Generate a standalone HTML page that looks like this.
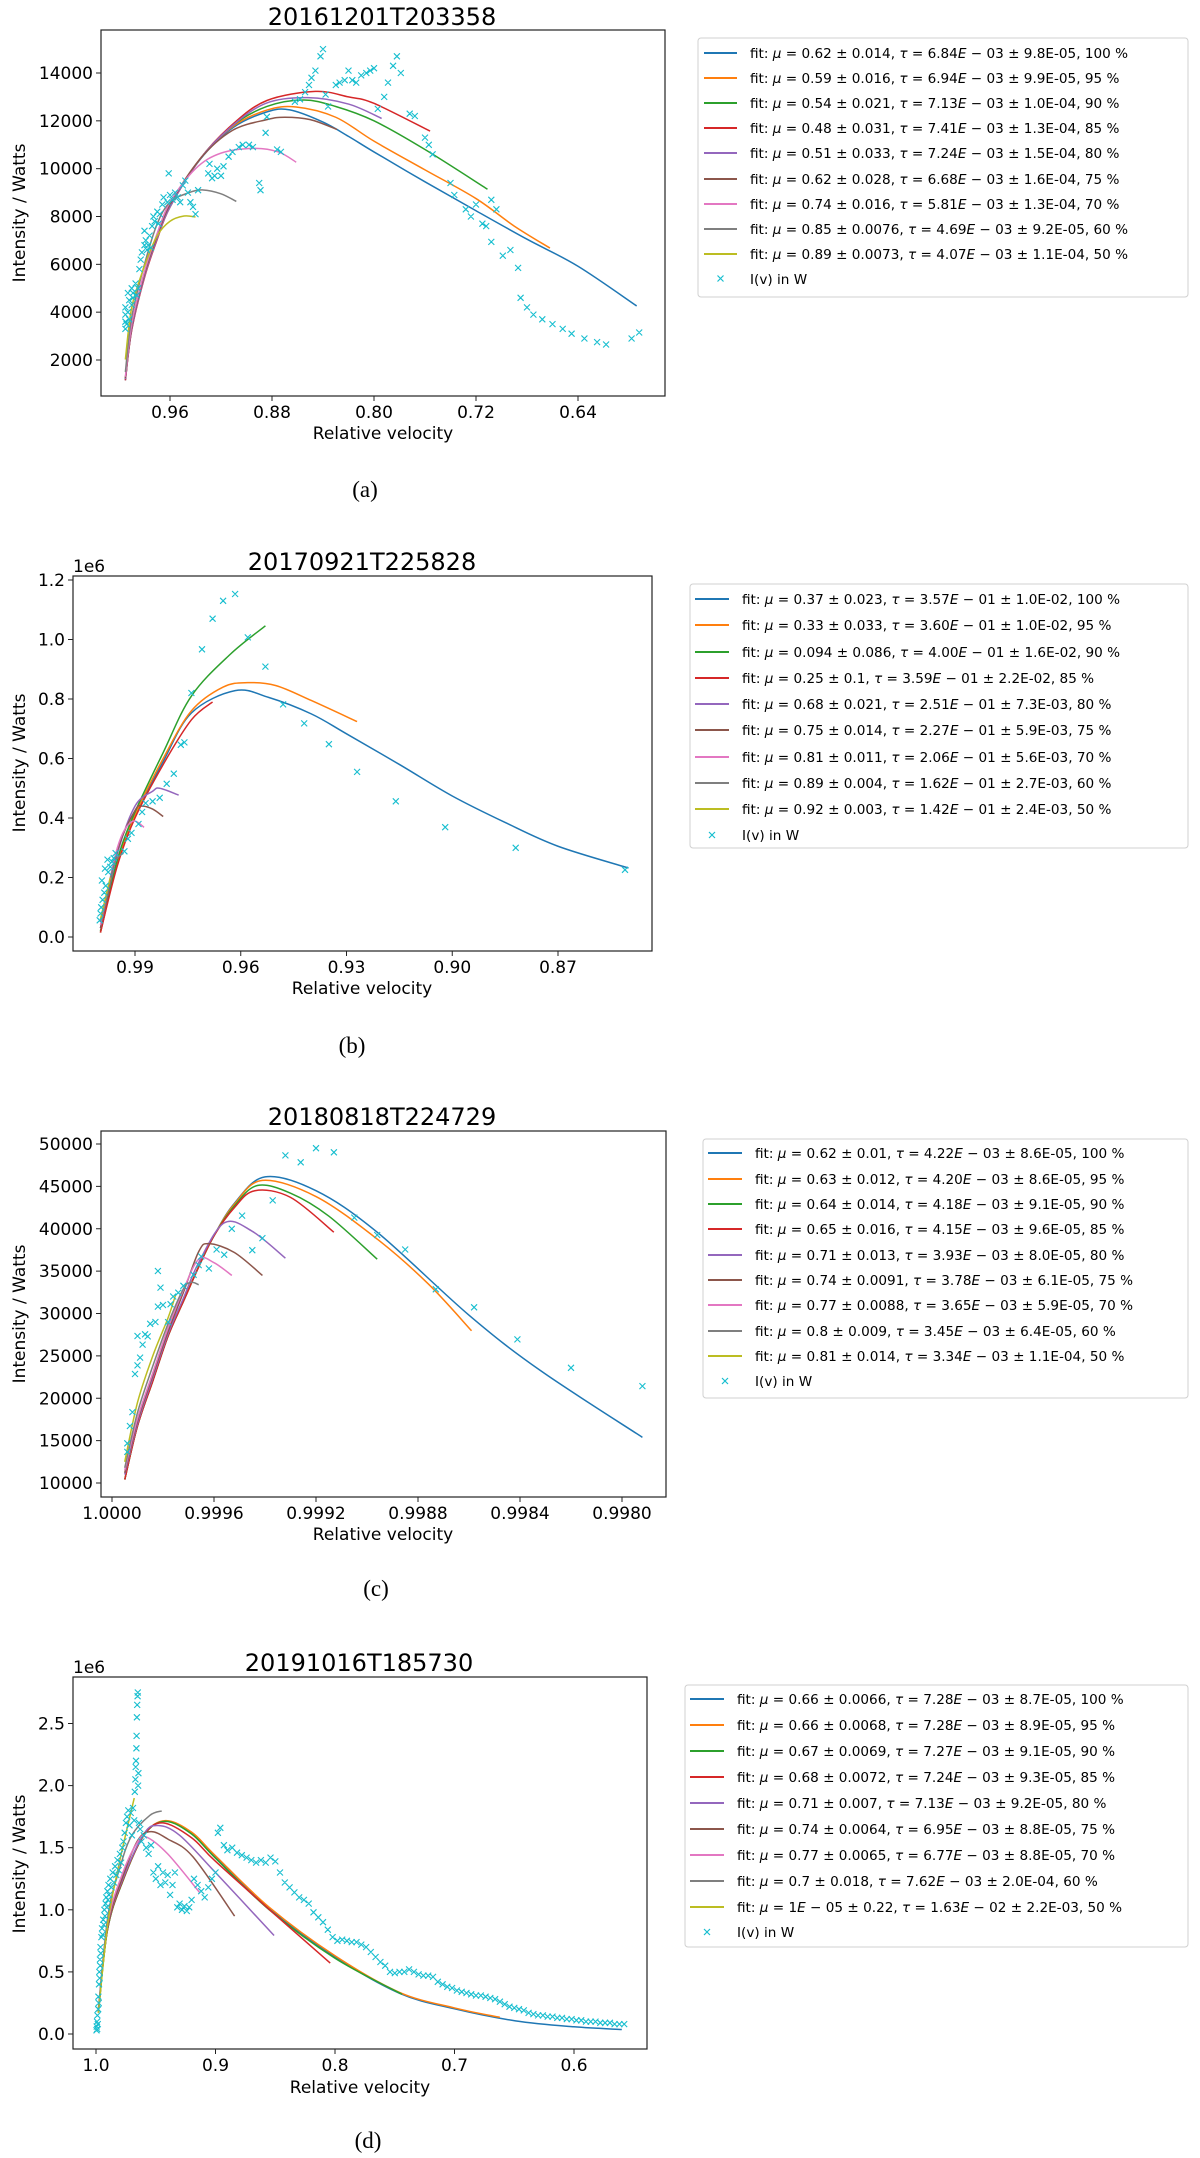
<!DOCTYPE html>
<html><head><meta charset="utf-8">
<style>
html,body{margin:0;padding:0;background:#fff;}
svg{display:block;font-family:"DejaVu Sans","Liberation Sans",sans-serif;}
.tk{font-size:17px;fill:#000;}
.ttl{font-size:24px;fill:#000;}
.lbl{font-size:17px;fill:#000;}
.lg{font-size:13.6px;fill:#000;}
.cap{font-family:"Liberation Serif",serif;font-size:23px;fill:#000;}
</style></head>
<body>
<svg id="fig" width="1200" height="2158" viewBox="0 0 1200 2158" xmlns="http://www.w3.org/2000/svg">
<rect width="1200" height="2158" fill="#fff"/>
<g id="pa"></g>
<g id="pb"></g>
<g id="pc"></g>
<g id="pd"></g>

<text class="ttl" x="382" y="25" text-anchor="middle">20161201T203358</text>
<text class="lbl" x="383" y="439" text-anchor="middle">Relative velocity</text>
<text class="lbl" transform="translate(25,213) rotate(-90)" text-anchor="middle">Intensity / Watts</text>
<text class="cap" x="365" y="497" text-anchor="middle">(a)</text>

<text class="ttl" x="362" y="570" text-anchor="middle">20170921T225828</text>
<text class="tk" x="73" y="572">1e6</text>
<text class="lbl" x="362" y="994" text-anchor="middle">Relative velocity</text>
<text class="lbl" transform="translate(25,763) rotate(-90)" text-anchor="middle">Intensity / Watts</text>
<text class="cap" x="352" y="1053" text-anchor="middle">(b)</text>

<text class="ttl" x="382" y="1125" text-anchor="middle">20180818T224729</text>
<text class="lbl" x="383" y="1540" text-anchor="middle">Relative velocity</text>
<text class="lbl" transform="translate(25,1314) rotate(-90)" text-anchor="middle">Intensity / Watts</text>
<text class="cap" x="376" y="1596" text-anchor="middle">(c)</text>

<text class="ttl" x="359" y="1671" text-anchor="middle">20191016T185730</text>
<text class="tk" x="73" y="1673">1e6</text>
<text class="lbl" x="360" y="2093" text-anchor="middle">Relative velocity</text>
<text class="lbl" transform="translate(25,1864) rotate(-90)" text-anchor="middle">Intensity / Watts</text>
<text class="cap" x="368" y="2148" text-anchor="middle">(d)</text>

<g transform="translate(698,38)">
<rect x="0" y="0" width="490" height="259" rx="3" fill="#fff" stroke="#d0d0d0"/>
<g><line x1="6" x2="39" y1="15" y2="15" stroke="#1f77b4" stroke-width="2"/><text class="lg" x="52" y="20">fit: <tspan font-style="italic">μ</tspan> = 0.62 ± 0.014, <tspan font-style="italic">τ</tspan> = 6.84<tspan font-style="italic">E</tspan> − 03 ± 9.8E-05, 100 %</text></g>
<g><line x1="6" x2="39" y1="40" y2="40" stroke="#ff7f0e" stroke-width="2"/><text class="lg" x="52" y="45">fit: <tspan font-style="italic">μ</tspan> = 0.59 ± 0.016, <tspan font-style="italic">τ</tspan> = 6.94<tspan font-style="italic">E</tspan> − 03 ± 9.9E-05, 95 %</text></g>
<g><line x1="6" x2="39" y1="65" y2="65" stroke="#2ca02c" stroke-width="2"/><text class="lg" x="52" y="70">fit: <tspan font-style="italic">μ</tspan> = 0.54 ± 0.021, <tspan font-style="italic">τ</tspan> = 7.13<tspan font-style="italic">E</tspan> − 03 ± 1.0E-04, 90 %</text></g>
<g><line x1="6" x2="39" y1="90" y2="90" stroke="#d62728" stroke-width="2"/><text class="lg" x="52" y="95">fit: <tspan font-style="italic">μ</tspan> = 0.48 ± 0.031, <tspan font-style="italic">τ</tspan> = 7.41<tspan font-style="italic">E</tspan> − 03 ± 1.3E-04, 85 %</text></g>
<g><line x1="6" x2="39" y1="115" y2="115" stroke="#9467bd" stroke-width="2"/><text class="lg" x="52" y="120">fit: <tspan font-style="italic">μ</tspan> = 0.51 ± 0.033, <tspan font-style="italic">τ</tspan> = 7.24<tspan font-style="italic">E</tspan> − 03 ± 1.5E-04, 80 %</text></g>
<g><line x1="6" x2="39" y1="141" y2="141" stroke="#8c564b" stroke-width="2"/><text class="lg" x="52" y="146">fit: <tspan font-style="italic">μ</tspan> = 0.62 ± 0.028, <tspan font-style="italic">τ</tspan> = 6.68<tspan font-style="italic">E</tspan> − 03 ± 1.6E-04, 75 %</text></g>
<g><line x1="6" x2="39" y1="166" y2="166" stroke="#e377c2" stroke-width="2"/><text class="lg" x="52" y="171">fit: <tspan font-style="italic">μ</tspan> = 0.74 ± 0.016, <tspan font-style="italic">τ</tspan> = 5.81<tspan font-style="italic">E</tspan> − 03 ± 1.3E-04, 70 %</text></g>
<g><line x1="6" x2="39" y1="191" y2="191" stroke="#7f7f7f" stroke-width="2"/><text class="lg" x="52" y="196">fit: <tspan font-style="italic">μ</tspan> = 0.85 ± 0.0076, <tspan font-style="italic">τ</tspan> = 4.69<tspan font-style="italic">E</tspan> − 03 ± 9.2E-05, 60 %</text></g>
<g><line x1="6" x2="39" y1="216" y2="216" stroke="#bcbd22" stroke-width="2"/><text class="lg" x="52" y="221">fit: <tspan font-style="italic">μ</tspan> = 0.89 ± 0.0073, <tspan font-style="italic">τ</tspan> = 4.07<tspan font-style="italic">E</tspan> − 03 ± 1.1E-04, 50 %</text></g>
<g><path d="M19.5,237.5 l6,6 M25.5,237.5 l-6,6" stroke="#17becf" stroke-width="1.2"/><text class="lg" x="52" y="246">I(v) in W</text></g>
</g>

<g transform="translate(690,584)">
<rect x="0" y="0" width="498" height="264" rx="3" fill="#fff" stroke="#d0d0d0"/>
<g><line x1="5" x2="39" y1="15" y2="15" stroke="#1f77b4" stroke-width="2"/><text class="lg" x="52" y="20">fit: <tspan font-style="italic">μ</tspan> = 0.37 ± 0.023, <tspan font-style="italic">τ</tspan> = 3.57<tspan font-style="italic">E</tspan> − 01 ± 1.0E-02, 100 %</text></g>
<g><line x1="5" x2="39" y1="41" y2="41" stroke="#ff7f0e" stroke-width="2"/><text class="lg" x="52" y="46">fit: <tspan font-style="italic">μ</tspan> = 0.33 ± 0.033, <tspan font-style="italic">τ</tspan> = 3.60<tspan font-style="italic">E</tspan> − 01 ± 1.0E-02, 95 %</text></g>
<g><line x1="5" x2="39" y1="68" y2="68" stroke="#2ca02c" stroke-width="2"/><text class="lg" x="52" y="73">fit: <tspan font-style="italic">μ</tspan> = 0.094 ± 0.086, <tspan font-style="italic">τ</tspan> = 4.00<tspan font-style="italic">E</tspan> − 01 ± 1.6E-02, 90 %</text></g>
<g><line x1="5" x2="39" y1="94" y2="94" stroke="#d62728" stroke-width="2"/><text class="lg" x="52" y="99">fit: <tspan font-style="italic">μ</tspan> = 0.25 ± 0.1, <tspan font-style="italic">τ</tspan> = 3.59<tspan font-style="italic">E</tspan> − 01 ± 2.2E-02, 85 %</text></g>
<g><line x1="5" x2="39" y1="120" y2="120" stroke="#9467bd" stroke-width="2"/><text class="lg" x="52" y="125">fit: <tspan font-style="italic">μ</tspan> = 0.68 ± 0.021, <tspan font-style="italic">τ</tspan> = 2.51<tspan font-style="italic">E</tspan> − 01 ± 7.3E-03, 80 %</text></g>
<g><line x1="5" x2="39" y1="146" y2="146" stroke="#8c564b" stroke-width="2"/><text class="lg" x="52" y="151">fit: <tspan font-style="italic">μ</tspan> = 0.75 ± 0.014, <tspan font-style="italic">τ</tspan> = 2.27<tspan font-style="italic">E</tspan> − 01 ± 5.9E-03, 75 %</text></g>
<g><line x1="5" x2="39" y1="173" y2="173" stroke="#e377c2" stroke-width="2"/><text class="lg" x="52" y="178">fit: <tspan font-style="italic">μ</tspan> = 0.81 ± 0.011, <tspan font-style="italic">τ</tspan> = 2.06<tspan font-style="italic">E</tspan> − 01 ± 5.6E-03, 70 %</text></g>
<g><line x1="5" x2="39" y1="199" y2="199" stroke="#7f7f7f" stroke-width="2"/><text class="lg" x="52" y="204">fit: <tspan font-style="italic">μ</tspan> = 0.89 ± 0.004, <tspan font-style="italic">τ</tspan> = 1.62<tspan font-style="italic">E</tspan> − 01 ± 2.7E-03, 60 %</text></g>
<g><line x1="5" x2="39" y1="225" y2="225" stroke="#bcbd22" stroke-width="2"/><text class="lg" x="52" y="230">fit: <tspan font-style="italic">μ</tspan> = 0.92 ± 0.003, <tspan font-style="italic">τ</tspan> = 1.42<tspan font-style="italic">E</tspan> − 01 ± 2.4E-03, 50 %</text></g>
<g><path d="M19,248 l6,6 M25,248 l-6,6" stroke="#17becf" stroke-width="1.2"/><text class="lg" x="52" y="256">I(v) in W</text></g>
</g>

<g transform="translate(703,1139)">
<rect x="0" y="0" width="485" height="259" rx="3" fill="#fff" stroke="#d0d0d0"/>
<g><line x1="5" x2="39" y1="14" y2="14" stroke="#1f77b4" stroke-width="2"/><text class="lg" x="52" y="19">fit: <tspan font-style="italic">μ</tspan> = 0.62 ± 0.01, <tspan font-style="italic">τ</tspan> = 4.22<tspan font-style="italic">E</tspan> − 03 ± 8.6E-05, 100 %</text></g>
<g><line x1="5" x2="39" y1="40" y2="40" stroke="#ff7f0e" stroke-width="2"/><text class="lg" x="52" y="45">fit: <tspan font-style="italic">μ</tspan> = 0.63 ± 0.012, <tspan font-style="italic">τ</tspan> = 4.20<tspan font-style="italic">E</tspan> − 03 ± 8.6E-05, 95 %</text></g>
<g><line x1="5" x2="39" y1="65" y2="65" stroke="#2ca02c" stroke-width="2"/><text class="lg" x="52" y="70">fit: <tspan font-style="italic">μ</tspan> = 0.64 ± 0.014, <tspan font-style="italic">τ</tspan> = 4.18<tspan font-style="italic">E</tspan> − 03 ± 9.1E-05, 90 %</text></g>
<g><line x1="5" x2="39" y1="90" y2="90" stroke="#d62728" stroke-width="2"/><text class="lg" x="52" y="95">fit: <tspan font-style="italic">μ</tspan> = 0.65 ± 0.016, <tspan font-style="italic">τ</tspan> = 4.15<tspan font-style="italic">E</tspan> − 03 ± 9.6E-05, 85 %</text></g>
<g><line x1="5" x2="39" y1="116" y2="116" stroke="#9467bd" stroke-width="2"/><text class="lg" x="52" y="121">fit: <tspan font-style="italic">μ</tspan> = 0.71 ± 0.013, <tspan font-style="italic">τ</tspan> = 3.93<tspan font-style="italic">E</tspan> − 03 ± 8.0E-05, 80 %</text></g>
<g><line x1="5" x2="39" y1="141" y2="141" stroke="#8c564b" stroke-width="2"/><text class="lg" x="52" y="146">fit: <tspan font-style="italic">μ</tspan> = 0.74 ± 0.0091, <tspan font-style="italic">τ</tspan> = 3.78<tspan font-style="italic">E</tspan> − 03 ± 6.1E-05, 75 %</text></g>
<g><line x1="5" x2="39" y1="166" y2="166" stroke="#e377c2" stroke-width="2"/><text class="lg" x="52" y="171">fit: <tspan font-style="italic">μ</tspan> = 0.77 ± 0.0088, <tspan font-style="italic">τ</tspan> = 3.65<tspan font-style="italic">E</tspan> − 03 ± 5.9E-05, 70 %</text></g>
<g><line x1="5" x2="39" y1="192" y2="192" stroke="#7f7f7f" stroke-width="2"/><text class="lg" x="52" y="197">fit: <tspan font-style="italic">μ</tspan> = 0.8 ± 0.009, <tspan font-style="italic">τ</tspan> = 3.45<tspan font-style="italic">E</tspan> − 03 ± 6.4E-05, 60 %</text></g>
<g><line x1="5" x2="39" y1="217" y2="217" stroke="#bcbd22" stroke-width="2"/><text class="lg" x="52" y="222">fit: <tspan font-style="italic">μ</tspan> = 0.81 ± 0.014, <tspan font-style="italic">τ</tspan> = 3.34<tspan font-style="italic">E</tspan> − 03 ± 1.1E-04, 50 %</text></g>
<g><path d="M19,239 l6,6 M25,239 l-6,6" stroke="#17becf" stroke-width="1.2"/><text class="lg" x="52" y="247">I(v) in W</text></g>
</g>

<g transform="translate(685,1685)">
<rect x="0" y="0" width="503" height="262" rx="3" fill="#fff" stroke="#d0d0d0"/>
<g><line x1="5" x2="39" y1="14" y2="14" stroke="#1f77b4" stroke-width="2"/><text class="lg" x="52" y="19">fit: <tspan font-style="italic">μ</tspan> = 0.66 ± 0.0066, <tspan font-style="italic">τ</tspan> = 7.28<tspan font-style="italic">E</tspan> − 03 ± 8.7E-05, 100 %</text></g>
<g><line x1="5" x2="39" y1="40" y2="40" stroke="#ff7f0e" stroke-width="2"/><text class="lg" x="52" y="45">fit: <tspan font-style="italic">μ</tspan> = 0.66 ± 0.0068, <tspan font-style="italic">τ</tspan> = 7.28<tspan font-style="italic">E</tspan> − 03 ± 8.9E-05, 95 %</text></g>
<g><line x1="5" x2="39" y1="66" y2="66" stroke="#2ca02c" stroke-width="2"/><text class="lg" x="52" y="71">fit: <tspan font-style="italic">μ</tspan> = 0.67 ± 0.0069, <tspan font-style="italic">τ</tspan> = 7.27<tspan font-style="italic">E</tspan> − 03 ± 9.1E-05, 90 %</text></g>
<g><line x1="5" x2="39" y1="92" y2="92" stroke="#d62728" stroke-width="2"/><text class="lg" x="52" y="97">fit: <tspan font-style="italic">μ</tspan> = 0.68 ± 0.0072, <tspan font-style="italic">τ</tspan> = 7.24<tspan font-style="italic">E</tspan> − 03 ± 9.3E-05, 85 %</text></g>
<g><line x1="5" x2="39" y1="118" y2="118" stroke="#9467bd" stroke-width="2"/><text class="lg" x="52" y="123">fit: <tspan font-style="italic">μ</tspan> = 0.71 ± 0.007, <tspan font-style="italic">τ</tspan> = 7.13<tspan font-style="italic">E</tspan> − 03 ± 9.2E-05, 80 %</text></g>
<g><line x1="5" x2="39" y1="144" y2="144" stroke="#8c564b" stroke-width="2"/><text class="lg" x="52" y="149">fit: <tspan font-style="italic">μ</tspan> = 0.74 ± 0.0064, <tspan font-style="italic">τ</tspan> = 6.95<tspan font-style="italic">E</tspan> − 03 ± 8.8E-05, 75 %</text></g>
<g><line x1="5" x2="39" y1="170" y2="170" stroke="#e377c2" stroke-width="2"/><text class="lg" x="52" y="175">fit: <tspan font-style="italic">μ</tspan> = 0.77 ± 0.0065, <tspan font-style="italic">τ</tspan> = 6.77<tspan font-style="italic">E</tspan> − 03 ± 8.8E-05, 70 %</text></g>
<g><line x1="5" x2="39" y1="196" y2="196" stroke="#7f7f7f" stroke-width="2"/><text class="lg" x="52" y="201">fit: <tspan font-style="italic">μ</tspan> = 0.7 ± 0.018, <tspan font-style="italic">τ</tspan> = 7.62<tspan font-style="italic">E</tspan> − 03 ± 2.0E-04, 60 %</text></g>
<g><line x1="5" x2="39" y1="222" y2="222" stroke="#bcbd22" stroke-width="2"/><text class="lg" x="52" y="227">fit: <tspan font-style="italic">μ</tspan> = 1<tspan font-style="italic">E</tspan> − 05 ± 0.22, <tspan font-style="italic">τ</tspan> = 1.63<tspan font-style="italic">E</tspan> − 02 ± 2.2E-03, 50 %</text></g>
<g><path d="M19,244 l6,6 M25,244 l-6,6" stroke="#17becf" stroke-width="1.2"/><text class="lg" x="52" y="252">I(v) in W</text></g>
</g>
</svg>

<script>
// ===== Panel A data =====
const aXTicks = [0.96, 0.88, 0.80, 0.72, 0.64];
const aXTickLabels = ["0.96", "0.88", "0.80", "0.72", "0.64"];
const aYTicks = [2000, 4000, 6000, 8000, 10000, 12000, 14000];
const aYTickLabels = ["2000", "4000", "6000", "8000", "10000", "12000", "14000"];
const aFitNames = ["100 %", "95 %", "90 %", "85 %", "80 %", "75 %", "70 %", "60 %", "50 %"];
const aFits = [
 [[0.995,1150],[0.99,3300],[0.98,5500],[0.97,7100],[0.96,8400],[0.9365,10375],[0.911,11700],[0.884,12375],[0.866,12460],[0.84,11950],[0.82,11350],[0.80,10700],[0.76,9450],[0.72,8240],[0.68,7050],[0.64,5920],[0.594,4260]],
 [[0.995,1200],[0.99,3300],[0.98,5500],[0.97,7100],[0.96,8400],[0.9365,10400],[0.911,11750],[0.884,12450],[0.861,12580],[0.83,12150],[0.80,11150],[0.76,9950],[0.72,8750],[0.69,7600],[0.662,6680]],
 [[0.995,1200],[0.99,3300],[0.98,5500],[0.97,7100],[0.96,8400],[0.9365,10400],[0.911,11800],[0.884,12600],[0.855,12870],[0.83,12600],[0.80,12000],[0.76,10800],[0.711,9140]],
 [[0.995,1150],[0.99,3250],[0.98,5450],[0.97,7050],[0.96,8400],[0.9365,10400],[0.911,11850],[0.884,12850],[0.846,13230],[0.82,13000],[0.80,12730],[0.756,11570]],
 [[0.995,1200],[0.99,3300],[0.98,5500],[0.97,7100],[0.96,8400],[0.9365,10400],[0.911,11800],[0.884,12750],[0.852,12970],[0.82,12700],[0.794,12100]],
 [[0.995,1250],[0.99,3400],[0.98,5600],[0.97,7200],[0.96,8500],[0.9365,10400],[0.911,11600],[0.884,12050],[0.87,12150],[0.85,12050],[0.829,11640]],
 [[0.995,1300],[0.99,3500],[0.98,5700],[0.97,7300],[0.96,8600],[0.94,10000],[0.92,10650],[0.894,10850],[0.875,10700],[0.861,10270]],
 [[0.995,1500],[0.99,3800],[0.98,6000],[0.97,7700],[0.96,8600],[0.945,9000],[0.934,9110],[0.92,8950],[0.908,8630]],
 [[0.995,2020],[0.99,4200],[0.98,5930],[0.97,7200],[0.96,7800],[0.949,8020],[0.94,7980]]
];
const aScatter = [
 [0.995,3300],[0.995,3600],[0.995,3900],[0.995,4200],[0.994,3500],[0.993,4000],[0.993,4800],[0.992,3700],[0.992,4500],[0.99,4300],[0.99,5000],[0.989,4800],[0.989,4600],[0.987,5200],[0.986,4700],[0.985,5000],[0.984,5800],[0.983,6200],[0.982,6500],[0.98,6800],[0.98,7400],[0.979,7000],[0.978,6600],[0.977,6800],[0.976,7200],[0.975,6700],[0.974,7600],[0.973,8000],[0.972,7800],[0.97,8200],[0.969,7700],[0.968,8100],[0.966,8500],[0.965,8800],[0.962,8600],[0.961,9800],[0.96,8900],[0.958,8700],[0.956,9000],[0.954,8800],[0.952,8600],[0.95,9300],[0.948,9500],[0.946,9000],[0.944,8600],[0.942,8400],[0.94,8100],[0.938,9100],[0.93,9800],[0.929,10200],[0.927,9600],[0.925,9700],[0.923,10000],[0.92,9700],[0.918,10100],[0.914,10500],[0.911,10700],[0.906,10900],[0.903,11000],[0.898,11000],[0.895,10900],[0.89,9400],[0.889,9100],[0.885,11500],[0.884,12170],[0.876,10800],[0.873,10700],[0.862,12800],[0.858,12900],[0.854,13200],[0.851,13500],[0.849,13800],[0.846,14100],[0.842,14700],[0.84,15000],[0.838,13100],[0.836,12600],[0.83,13500],[0.827,13600],[0.823,13700],[0.82,14100],[0.817,13700],[0.814,13600],[0.81,13900],[0.806,14000],[0.803,14100],[0.8,14200],[0.797,12500],[0.792,13000],[0.789,13600],[0.785,14300],[0.782,14700],[0.779,14000],[0.772,12300],[0.768,12200],[0.76,11300],[0.757,11000],[0.754,10600],[0.74,9400],[0.737,8900],[0.728,8300],[0.724,8000],[0.72,8500],[0.715,7700],[0.712,7600],[0.708,8700],[0.704,8300],[0.708,6940],[0.699,6360],[0.693,6600],[0.687,5850],[0.685,4600],[0.68,4200],[0.675,3900],[0.668,3700],[0.66,3500],[0.652,3300],[0.645,3100],[0.635,2900],[0.625,2750],[0.618,2650],[0.598,2900],[0.592,3150]
];

// ===== Panel B data (values in 1e6) =====
const bXTicks = [0.99, 0.96, 0.93, 0.90, 0.87];
const bXTickLabels = ["0.99", "0.96", "0.93", "0.90", "0.87"];
const bYTicks = [0, 0.2, 0.4, 0.6, 0.8, 1.0, 1.2];
const bYTickLabels = ["0.0", "0.2", "0.4", "0.6", "0.8", "1.0", "1.2"];
const bFits = [
 [[0.9998,0.015],[0.995,0.25],[0.99,0.404],[0.982,0.59],[0.974,0.753],[0.9616,0.828],[0.952,0.805],[0.94,0.75],[0.93,0.683],[0.915,0.58],[0.90,0.474],[0.885,0.385],[0.87,0.305],[0.85,0.232]],
 [[0.9998,0.015],[0.995,0.25],[0.99,0.41],[0.982,0.60],[0.974,0.76],[0.965,0.84],[0.958,0.855],[0.95,0.845],[0.94,0.795],[0.927,0.724]],
 [[0.9998,0.02],[0.995,0.26],[0.99,0.42],[0.982,0.62],[0.974,0.81],[0.963,0.95],[0.953,1.046]],
 [[0.9998,0.015],[0.995,0.24],[0.99,0.40],[0.982,0.58],[0.974,0.73],[0.968,0.79]],
 [[0.9998,0.03],[0.995,0.28],[0.99,0.44],[0.985,0.49],[0.983,0.50],[0.9776,0.477]],
 [[0.9998,0.03],[0.995,0.29],[0.99,0.425],[0.988,0.44],[0.985,0.43],[0.982,0.405]],
 [[0.9998,0.04],[0.995,0.30],[0.991,0.387],[0.9874,0.369]],
 [[0.9998,0.05],[0.996,0.24],[0.9933,0.282]],
 [[0.9998,0.06],[0.997,0.20]]
];
const bScatter = [
 [0.9616,1.153],[0.965,1.13],[0.968,1.07],[0.971,0.967],[0.958,1.007],[0.953,0.909],[0.974,0.82],[0.948,0.782],[0.942,0.718],[0.935,0.648],[0.927,0.555],[0.916,0.456],[0.902,0.369],[0.882,0.30],[0.851,0.226],[0.976,0.654],[0.977,0.646],[0.979,0.549],[0.981,0.515],[0.983,0.468],[0.985,0.456],[0.987,0.45],[0.988,0.42],[0.989,0.38],[0.991,0.35],[0.993,0.288],[0.9955,0.282],[0.9965,0.253],[0.9976,0.218],[0.9983,0.172],[0.9992,0.125],[0.9998,0.079],[1.0,0.056],[0.9987,0.149],[0.997,0.236],[0.996,0.265],[0.9996,0.10],[0.9994,0.19],[0.9985,0.23],[0.9978,0.26],[0.992,0.33]
];

// ===== Panel C data =====
const cXTicks = [1.0, 0.9996, 0.9992, 0.9988, 0.9984, 0.998];
const cXTickLabels = ["1.0000", "0.9996", "0.9992", "0.9988", "0.9984", "0.9980"];
const cYTicks = [10000, 15000, 20000, 25000, 30000, 35000, 40000, 45000, 50000];
const cYTickLabels = ["10000", "15000", "20000", "25000", "30000", "35000", "40000", "45000", "50000"];
const cFits = [
 [[0.99995,10400],[0.9999,16730],[0.99984,22040],[0.99978,27350],[0.99972,31430],[0.99966,35510],[0.9996,39180],[0.99952,43000],[0.9994,46120],[0.9992,44490],[0.99896,39590],[0.9986,29800],[0.99832,23270],[0.99792,15390]],
 [[0.99995,10400],[0.9999,16730],[0.99984,22040],[0.99978,27350],[0.99972,31430],[0.99966,35510],[0.9996,39180],[0.99952,42900],[0.99941,45710],[0.9992,43800],[0.99896,38780],[0.99876,33500],[0.99859,27960]],
 [[0.99995,10400],[0.9999,16730],[0.99984,22040],[0.99978,27350],[0.99972,31430],[0.99966,35510],[0.9996,39180],[0.99952,42700],[0.99943,45100],[0.9993,44200],[0.99915,41500],[0.99896,36410]],
 [[0.99995,10400],[0.9999,16730],[0.99984,22040],[0.99978,27350],[0.99972,31430],[0.99966,35510],[0.9996,39180],[0.99952,42500],[0.99944,44490],[0.9993,43700],[0.99913,39590]],
 [[0.99995,11000],[0.9999,17000],[0.99984,22400],[0.99978,27600],[0.99972,31800],[0.99966,36000],[0.99956,40690],[0.99945,39700],[0.99932,36530]],
 [[0.99995,11200],[0.9999,17300],[0.99984,22700],[0.99978,27900],[0.99972,32500],[0.99966,37300],[0.99962,38240],[0.99952,37200],[0.99941,34490]],
 [[0.99995,11500],[0.9999,17600],[0.99984,23000],[0.99978,28300],[0.99972,32800],[0.99966,36410],[0.9996,36000],[0.99953,34490]],
 [[0.99995,11800],[0.9999,18300],[0.99984,23800],[0.99978,28800],[0.99972,32900],[0.99969,33670],[0.99966,33390]],
 [[0.99995,12500],[0.9999,19500],[0.99984,25000],[0.99978,29500],[0.99975,32240]]
];
const cScatter = [
 [0.99932,48650],[0.99926,47840],[0.9992,49510],[0.99913,49020],[0.99937,43350],[0.99949,41550],[0.99941,38900],[0.99953,40000],[0.99945,37470],[0.99905,41310],[0.99896,39260],[0.99885,37550],[0.99873,32860],[0.99858,30730],[0.99841,26940],[0.9982,23590],[0.99792,21430],[0.99956,36940],[0.99959,37550],[0.99962,35310],[0.99965,36730],[0.99966,35710],[0.99968,34570],[0.99972,33270],[0.99974,32450],[0.99977,31100],[0.99978,28980],[0.99982,35020],[0.99981,33060],[0.99982,30820],[0.99985,28780],[0.99987,27550],[0.99988,26330],[0.9999,27350],[0.9999,23880],[0.99991,22860],[0.99992,18370],[0.99993,16730],[0.99994,14690],[0.99994,13670],[0.99989,24800],[0.99986,27300],[0.99983,29000],[0.9998,31000],[0.99976,32000]
];

// ===== Panel D data (values in 1e6) =====
const dXTicks = [1.0, 0.9, 0.8, 0.7, 0.6];
const dXTickLabels = ["1.0", "0.9", "0.8", "0.7", "0.6"];
const dYTicks = [0, 0.5, 1.0, 1.5, 2.0, 2.5];
const dYTickLabels = ["0.0", "0.5", "1.0", "1.5", "2.0", "2.5"];
const dFits = [
 [[0.998,0.175],[0.9903,0.843],[0.9775,1.233],[0.96,1.60],[0.942,1.715],[0.92,1.62],[0.9,1.428],[0.855,1.01],[0.80,0.621],[0.746,0.328],[0.70,0.203],[0.649,0.106],[0.60,0.058],[0.56,0.036]],
 [[0.998,0.175],[0.9903,0.843],[0.9775,1.233],[0.96,1.60],[0.942,1.718],[0.92,1.625],[0.9,1.435],[0.855,1.02],[0.80,0.63],[0.746,0.335],[0.70,0.21],[0.662,0.134]],
 [[0.998,0.175],[0.9903,0.843],[0.9775,1.233],[0.96,1.60],[0.942,1.712],[0.92,1.61],[0.9,1.415],[0.855,1.0],[0.80,0.61],[0.744,0.32]],
 [[0.998,0.18],[0.9903,0.85],[0.9775,1.24],[0.96,1.60],[0.944,1.70],[0.92,1.58],[0.9,1.39],[0.85,0.96],[0.804,0.571]],
 [[0.998,0.18],[0.9903,0.86],[0.9775,1.25],[0.96,1.61],[0.948,1.679],[0.93,1.60],[0.9,1.30],[0.851,0.793]],
 [[0.998,0.19],[0.99,0.88],[0.9775,1.27],[0.965,1.56],[0.954,1.629],[0.94,1.57],[0.919,1.428],[0.884,0.949]],
 [[0.998,0.2],[0.99,0.9],[0.9775,1.3],[0.965,1.55],[0.958,1.587],[0.94,1.45],[0.913,1.136]],
 [[0.998,0.2],[0.99,0.95],[0.98,1.34],[0.97,1.6],[0.955,1.76],[0.945,1.796]],
 [[0.998,0.17],[0.99,0.9],[0.98,1.4],[0.968,1.90]]
];
const dScatter = [
 [0.9996,0.03],[0.9994,0.06],[0.9992,0.1],[0.999,0.04],[0.9988,0.15],[0.9985,0.08],[0.9982,0.2],[0.998,0.3],[0.9977,0.25],[0.9975,0.4],[0.9972,0.5],[0.997,0.45],[0.9967,0.6],[0.9965,0.55],[0.9962,0.7],[0.996,0.65],[0.9955,0.78],[0.995,0.85],[0.9945,0.8],[0.994,0.92],[0.9935,0.88],[0.993,1.0],[0.9925,0.95],[0.992,1.05],[0.9915,1.1],[0.991,1.02],[0.9905,1.15],[0.99,1.08],[0.9895,1.2],[0.989,1.12],[0.988,1.25],[0.987,1.18],[0.986,1.3],[0.985,1.22],[0.984,1.35],[0.983,1.28],[0.982,1.4],[0.981,1.32],[0.98,1.45],[0.979,1.38],[0.978,1.5],[0.977,1.55],[0.976,1.62],[0.975,1.7],[0.974,1.75],[0.973,1.8],[0.972,1.68],[0.971,1.78],[0.97,1.6],[0.969,1.82],[0.968,1.72],[0.9675,1.95],[0.967,2.05],[0.9668,2.15],[0.9665,2.2],[0.9662,2.3],[0.966,2.4],[0.9658,2.55],[0.9655,2.65],[0.9652,2.72],[0.965,2.75],[0.9648,2.0],[0.9645,2.1],[0.964,1.7],[0.963,1.65],[0.962,1.55],[0.96,1.6],[0.958,1.5],[0.956,1.45],[0.954,1.52],[0.952,1.3],[0.95,1.25],[0.948,1.35],[0.946,1.2],[0.944,1.3],[0.942,1.22],[0.94,1.28],[0.938,1.12],[0.936,1.2],[0.934,1.3],[0.932,1.02],[0.93,1.05],[0.928,1.0],[0.926,1.03],[0.924,0.99],[0.922,1.02],[0.92,1.08],[0.918,1.25],[0.915,1.2],[0.912,1.15],[0.909,1.1],[0.906,1.18],[0.903,1.25],[0.9,1.3],[0.898,1.62],[0.896,1.66],[0.893,1.52],[0.89,1.48],[0.886,1.5],[0.882,1.46],[0.878,1.44],[0.874,1.42],[0.87,1.4],[0.866,1.38],[0.862,1.4],[0.858,1.38],[0.854,1.42],[0.85,1.39],[0.846,1.3],[0.842,1.22],[0.838,1.18],[0.834,1.14],[0.83,1.1],[0.826,1.08],[0.822,1.05],[0.818,0.98],[0.814,0.94],[0.81,0.9],[0.806,0.84],[0.802,0.78],[0.798,0.75],[0.794,0.76],[0.79,0.75],[0.786,0.74],[0.782,0.74],[0.778,0.72],[0.774,0.7],[0.77,0.66],[0.766,0.62],[0.762,0.58],[0.758,0.55],[0.754,0.5],[0.75,0.49],[0.746,0.5],[0.742,0.5],[0.738,0.52],[0.734,0.5],[0.73,0.48],[0.726,0.47],[0.722,0.47],[0.718,0.46],[0.714,0.42],[0.71,0.4],[0.706,0.38],[0.702,0.37],[0.698,0.35],[0.694,0.34],[0.69,0.33],[0.686,0.32],[0.682,0.31],[0.678,0.31],[0.674,0.3],[0.67,0.29],[0.666,0.28],[0.662,0.26],[0.658,0.24],[0.654,0.22],[0.65,0.21],[0.646,0.2],[0.642,0.19],[0.638,0.17],[0.634,0.16],[0.63,0.15],[0.626,0.15],[0.622,0.14],[0.618,0.14],[0.614,0.13],[0.61,0.13],[0.606,0.12],[0.602,0.12],[0.598,0.11],[0.594,0.11],[0.59,0.1],[0.586,0.1],[0.582,0.1],[0.578,0.09],[0.574,0.09],[0.57,0.09],[0.566,0.08],[0.562,0.08],[0.558,0.08]
];

const COLORS = ["#1f77b4","#ff7f0e","#2ca02c","#d62728","#9467bd","#8c564b","#e377c2","#7f7f7f","#bcbd22"];
const NS = "http://www.w3.org/2000/svg";

function mkScale(d0, p0, d1, p1) { return v => p0 + (v - d0) * (p1 - p0) / (d1 - d0); }

function smoothPath(pts) {
  let d = "M" + pts[0][0].toFixed(2) + "," + pts[0][1].toFixed(2);
  for (let i = 0; i < pts.length - 1; i++) {
    const p0 = pts[i - 1] || pts[i], p1 = pts[i], p2 = pts[i + 1], p3 = pts[i + 2] || p2;
    const c1x = p1[0] + (p2[0] - p0[0]) / 6, c1y = p1[1] + (p2[1] - p0[1]) / 6;
    const c2x = p2[0] - (p3[0] - p1[0]) / 6, c2y = p2[1] - (p3[1] - p1[1]) / 6;
    d += " C" + c1x.toFixed(2) + "," + c1y.toFixed(2) + " " + c2x.toFixed(2) + "," + c2y.toFixed(2) + " " + p2[0].toFixed(2) + "," + p2[1].toFixed(2);
  }
  return d;
}

function drawPanel(gid, box, xs, ys, xt, xtl, yt, ytl, fits, scatter, key) {
  const g = document.getElementById(gid);
  const fg = document.createElementNS(NS, "g");
  
  
  g.appendChild(fg);
  fits.forEach((f, i) => {
    const p = document.createElementNS(NS, "path");
    p.setAttribute("d", smoothPath(f.map(q => [xs(q[0]), ys(q[1])])));
    p.setAttribute("fill", "none");
    p.setAttribute("stroke", COLORS[i]);
    p.setAttribute("stroke-width", "1.5");
    
    
    fg.appendChild(p);
  });
  const sg = document.createElementNS(NS, "g");
  
  
  g.appendChild(sg);
  let d = "";
  scatter.forEach(q => {
    const x = xs(q[0]), y = ys(q[1]), r = 3;
    d += "M" + (x - r).toFixed(1) + "," + (y - r).toFixed(1) + " l" + 2 * r + "," + 2 * r + " M" + (x + r).toFixed(1) + "," + (y - r).toFixed(1) + " l" + (-2 * r) + "," + 2 * r + " ";
  });
  const sp = document.createElementNS(NS, "path");
  sp.setAttribute("d", d);
  sp.setAttribute("stroke", "#17becf");
  sp.setAttribute("stroke-width", "1.1");
  sp.setAttribute("fill", "none");
  
  
  sg.appendChild(sp);
  const r = document.createElementNS(NS, "rect");
  r.setAttribute("x", box.l); r.setAttribute("y", box.t);
  r.setAttribute("width", box.r - box.l); r.setAttribute("height", box.b - box.t);
  r.setAttribute("fill", "none"); r.setAttribute("stroke", "#222"); r.setAttribute("stroke-width", "1.2");
  
  
  g.appendChild(r);
  xt.forEach((v, i) => {
    const x = xs(v);
    const l = document.createElementNS(NS, "line");
    l.setAttribute("x1", x); l.setAttribute("x2", x); l.setAttribute("y1", box.b); l.setAttribute("y2", box.b + 5);
    l.setAttribute("stroke", "#222");
    
    
    g.appendChild(l);
    const t = document.createElementNS(NS, "text");
    t.setAttribute("x", x); t.setAttribute("y", box.b + 22);
    t.setAttribute("text-anchor", "middle"); t.setAttribute("class", "tk");
    t.textContent = xtl[i];
    
    
    g.appendChild(t);
  });
  yt.forEach((v, i) => {
    const y = ys(v);
    const l = document.createElementNS(NS, "line");
    l.setAttribute("x1", box.l - 5); l.setAttribute("x2", box.l); l.setAttribute("y1", y); l.setAttribute("y2", y);
    l.setAttribute("stroke", "#222");
    
    
    g.appendChild(l);
    const t = document.createElementNS(NS, "text");
    t.setAttribute("x", box.l - 8); t.setAttribute("y", y + 6);
    t.setAttribute("text-anchor", "end"); t.setAttribute("class", "tk");
    t.textContent = ytl[i];
    
    
    g.appendChild(t);
  });
}

drawPanel("pa", {l:101,t:30,r:665,b:396}, mkScale(0.96,170,0.64,578), mkScale(14000,73,2000,360),
  aXTicks, aXTickLabels, aYTicks, aYTickLabels, aFits, aScatter, "a");
drawPanel("pb", {l:73,t:576,r:652,b:951}, mkScale(0.99,135,0.87,558), mkScale(0,937,1.2,580),
  bXTicks, bXTickLabels, bYTicks, bYTickLabels, bFits, bScatter, "b");
drawPanel("pc", {l:101,t:1131,r:666,b:1497}, mkScale(1.0,112,0.998,622), mkScale(10000,1483,50000,1144),
  cXTicks, cXTickLabels, cYTicks, cYTickLabels, cFits, cScatter, "c");
drawPanel("pd", {l:73,t:1677,r:647,b:2049}, mkScale(1.0,96,0.6,574), mkScale(0,2034,2.5,1723.5),
  dXTicks, dXTickLabels, dYTicks, dYTickLabels, dFits, dScatter, "d");
</script>
</body></html>
